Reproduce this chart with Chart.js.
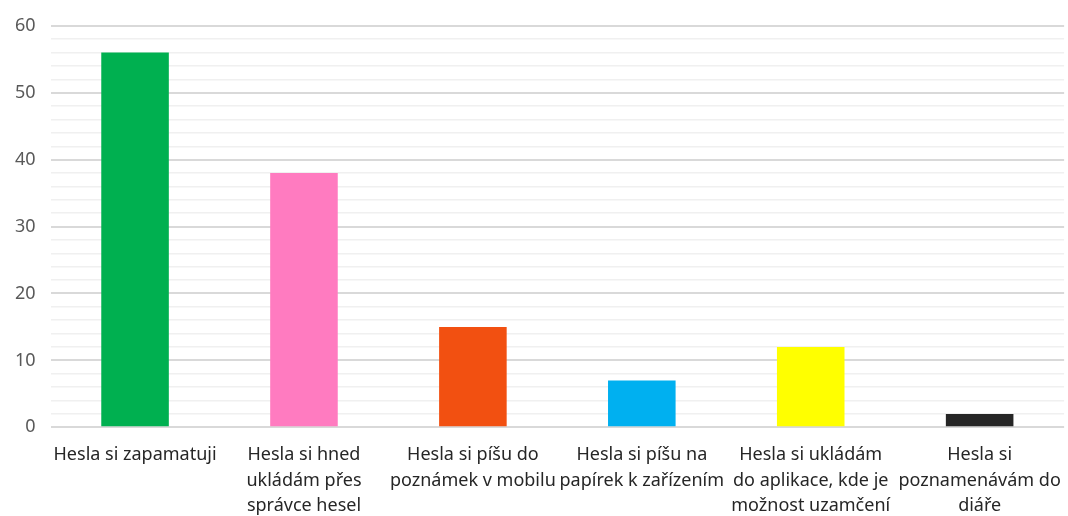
<!DOCTYPE html>
<html>
<head>
<meta charset="utf-8">
<script src="https://cdn.jsdelivr.net/npm/chart.js@4/dist/chart.umd.min.js"></script>
<style>
  html, body { margin: 0; padding: 0; background: #fff; }
  #wrap { width: 1068px; height: 516px; }
</style>
</head>
<body>
<div id="wrap"><canvas id="chart"></canvas></div>
<script>
// ── Data ─────────────────────────────────────────
const categories = [
    'Hesla si zapamatuji',
    ['Hesla si hned', 'ukládám přes', 'správce hesel'],
    ['Hesla si píšu do', 'poznámek v mobilu'],
    ['Hesla si píšu na', 'papírek k zařízením'],
    ['Hesla si ukládám', 'do aplikace, kde je', 'možnost uzamčení'],
    ['Hesla si', 'poznamenávám do', 'diáře']
];
const values    = [56, 38, 15, 7, 12, 2];
const barColors = ['#00B050', '#FF7BC0', '#F25011', '#00B0F0', '#FFFF00', '#262626'];
const yTicks    = [0, 10, 20, 30, 40, 50, 60];

new Chart(document.getElementById('chart'), {
    type: 'bar',
    data: {
        labels: categories,
        datasets: [{
            data: values,
            backgroundColor: barColors,
            barPercentage: 0.4,
            categoryPercentage: 1.0
        }]
    },
    options: {
        responsive: true,
        maintainAspectRatio: false,
        animation: false,
        layout: { padding: { top: 7, right: 2, left: 0, bottom: -10 } },
        plugins: { legend: { display: false }, tooltip: { enabled: false } },
        scales: {
            x: {
                grid: { display: false },
                border: { display: false },
                ticks: {
                    color: '#262626',
                    font: { family: 'Noto Sans', size: 18, lineHeight: 1.42 },
                    maxRotation: 0, autoSkip: false, padding: 7
                }
            },
            y: {
                min: 0, max: 60,
                border: { display: false },
                grid: {
                    drawTicks: false,
                    color: ctx => (ctx.tick && ctx.tick.value % 10 === 0) ? '#d9d9d9' : '#f0f0f0',
                    lineWidth: ctx => (ctx.tick && ctx.tick.value % 10 === 0) ? 2 : 1.5
                },
                ticks: {
                    stepSize: 2, autoSkip: false, padding: 15,
                    color: '#595959',
                    font: { family: 'Noto Sans', size: 18 },
                    callback: v => yTicks.includes(v) ? v : ''
                }
            }
        }
    }
});
</script>
</body>
</html>
